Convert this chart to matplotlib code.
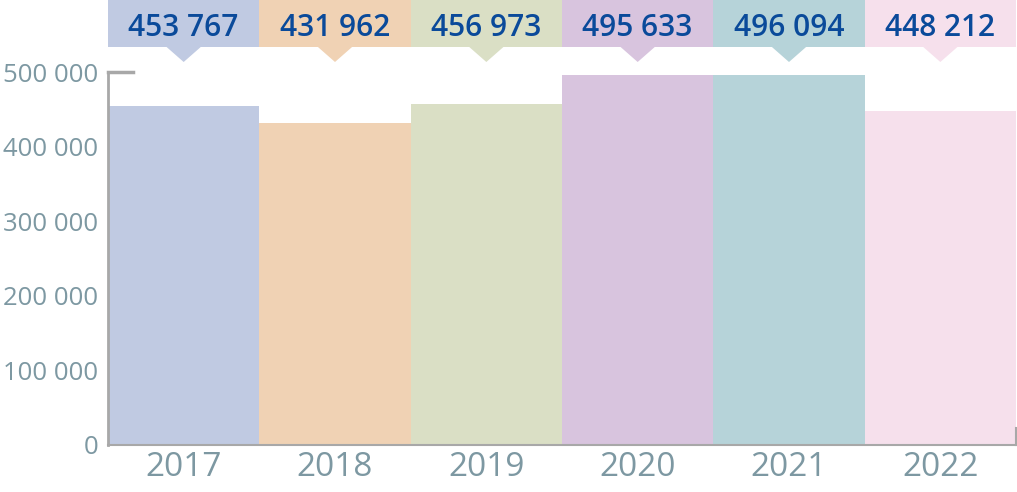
import matplotlib.pyplot as plt
from matplotlib.patches import Rectangle, Polygon
import matplotlib.transforms as mtransforms

years = ["2017", "2018", "2019", "2020", "2021", "2022"]
values = [453767, 431962, 456973, 495633, 496094, 448212]
labels = ["453 767", "431 962", "456 973", "495 633", "496 094", "448 212"]
colors = ["#c0cae2", "#f0d2b4", "#dadfc5", "#d8c4de", "#b6d3d9", "#f6e0ec"]
yticks = [0, 100000, 200000, 300000, 400000, 500000]
ytick_labels = ["0", "100 000", "200 000", "300 000", "400 000", "500 000"]

plt.rcParams["font.family"] = ["Open Sans", "DejaVu Sans"]

W, H = 1017, 492
fig = plt.figure(figsize=(W / 100, H / 100), dpi=100)
left, right, top, bottom = 108, 1016, 72, 445
ax = fig.add_axes([left / W, 1 - bottom / H, (right - left) / W, (bottom - top) / H])

x = list(range(len(years)))
ax.bar(x, values, width=1.0, color=colors, edgecolor="none", zorder=2)
ax.set_xlim(-0.5, len(years) - 0.5)
ax.set_ylim(0, 500000)

for s in ax.spines.values():
    s.set_visible(False)

ax.set_yticks(yticks)
ax.set_yticklabels(ytick_labels, fontsize=18.5, color="#7d98a2")
ax.set_xticks(x)
ax.set_xticklabels(years, fontsize=24, color="#7d98a2", fontweight="medium")
ax.tick_params(axis="both", length=0)
ax.tick_params(axis="y", pad=7)
ax.tick_params(axis="x", pad=4)

# axis lines
axis_col = "#a8a8a8"
ax.plot([0, 0], [0, 1], color=axis_col, lw=2, transform=ax.transAxes, clip_on=False, zorder=3)
ax.plot([0, 25 / (right - left)], [1, 1], color=axis_col, lw=2.5, transform=ax.transAxes, clip_on=False, zorder=3)
ax.plot([0, 1], [0, 0], color=axis_col, lw=1.5, transform=ax.transAxes, clip_on=False, zorder=3)
ax.plot([1, 1], [0, 17 / (bottom - top)], color=axis_col, lw=1.5, transform=ax.transAxes, clip_on=False, zorder=3)

# value boxes above the chart (pixel rows measured from the top)
trans = mtransforms.blended_transform_factory(ax.transData, ax.transAxes)
h = bottom - top
box_lo = (bottom - 47) / h
box_hi = (bottom + 2) / h
tip = (bottom - 62) / h
text_row = 28
half_tri = 17.5 / ((right - left) / len(years))
for i, (lab, c) in enumerate(zip(labels, colors)):
    ax.add_patch(Rectangle((i - 0.5, box_lo), 1.0, box_hi - box_lo, facecolor=c,
                           edgecolor="none", transform=trans, clip_on=False))
    ax.add_patch(Polygon([(i - half_tri, box_lo + 0.001), (i + half_tri, box_lo + 0.001), (i, tip)],
                         closed=True, facecolor=c, edgecolor="none", transform=trans, clip_on=False))
    ax.text(i, (bottom - text_row) / h, lab, transform=trans, ha="center", va="center",
            fontsize=21.5, color="#0a4a9a", fontweight="semibold")

fig.savefig("out.png", dpi=100)
